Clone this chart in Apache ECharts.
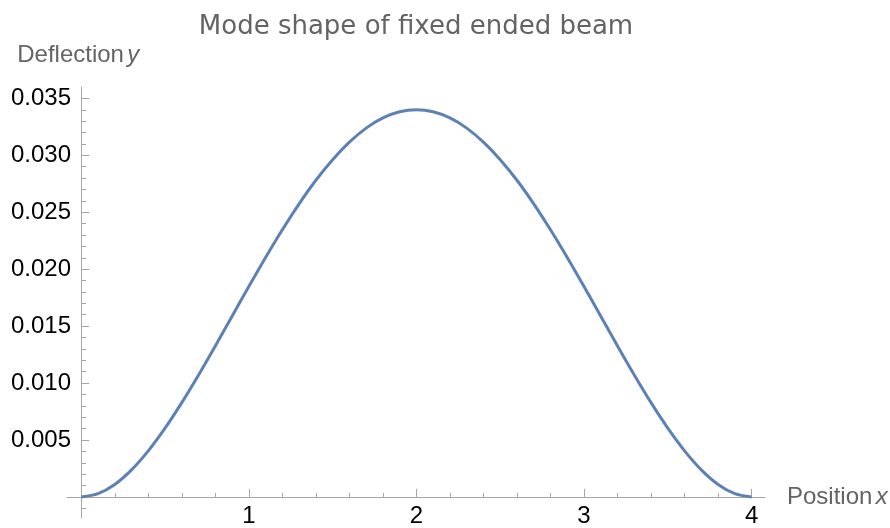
<!DOCTYPE html>
<html>
<head>
<meta charset="utf-8">
<script src="https://cdn.jsdelivr.net/npm/echarts@6/dist/echarts.min.js"></script>
<style>
  html, body { margin: 0; padding: 0; background: #fff; }
  #chart { width: 890px; height: 528px; }
</style>
</head>
<body>
<div id="chart"></div>
<script>
// position along the beam
const positions = [
  0.0, 0.1, 0.2, 0.3, 0.4, 0.5, 0.6, 0.7, 0.8, 0.9,
  1.0, 1.1, 1.2, 1.3, 1.4, 1.5, 1.6, 1.7, 1.8, 1.9,
  2.0, 2.1, 2.2, 2.3, 2.4, 2.5, 2.6, 2.7, 2.8, 2.9,
  3.0, 3.1, 3.2, 3.3, 3.4, 3.5, 3.6, 3.7, 3.8, 3.9, 4.0
];
// deflection
const deflection = [
  0.00000, 0.00029, 0.00110, 0.00238, 0.00405, 0.00604, 0.00828, 0.01071, 0.01326, 0.01587,
  0.01848, 0.02103, 0.02346, 0.02574, 0.02781, 0.02962, 0.03116, 0.03239, 0.03328, 0.03382,
  0.03400, 0.03382, 0.03328, 0.03239, 0.03116, 0.02962, 0.02781, 0.02574, 0.02346, 0.02103,
  0.01848, 0.01587, 0.01326, 0.01071, 0.00828, 0.00604, 0.00405, 0.00238, 0.00110, 0.00029, 0.00000
];

const xMajorTicks = [1, 2, 3, 4];
const xMinorTicks = [0.2, 0.4, 0.6, 0.8, 1.2, 1.4, 1.6, 1.8, 2.2, 2.4, 2.6, 2.8, 3.2, 3.4, 3.6, 3.8];
const yMajorTicks = [0.005, 0.010, 0.015, 0.020, 0.025, 0.030, 0.035];
const yMinorTicks = [-0.001, 0.001, 0.002, 0.003, 0.004, 0.006, 0.007, 0.008, 0.009,
  0.011, 0.012, 0.013, 0.014, 0.016, 0.017, 0.018, 0.019,
  0.021, 0.022, 0.023, 0.024, 0.026, 0.027, 0.028, 0.029,
  0.031, 0.032, 0.033, 0.034];

const X_MIN = -0.085, X_MAX = 4.08;
const Y_MIN = -0.00185, Y_MAX = 0.036;

const axisGray = '#a6a6a6';
const textGray = '#646464';

let chart = echarts.init(document.getElementById('chart'), null, { renderer: 'canvas' });

const seriesData = positions.map((x, i) => [x, deflection[i]]);

const option = {
  animation: false,
  title: {
    text: 'Mode shape of fixed ended beam',
    left: 416,
    top: 14,
    padding: 0,
    textAlign: 'center',
    textStyle: {
      color: textGray,
      fontFamily: 'DejaVu Sans',
      fontWeight: 'normal',
      fontSize: 26
    }
  },
  grid: {
    left: 67,
    right: 125,
    top: 87,
    bottom: 10,
    containLabel: false,
    outerBoundsMode: 'none'
  },
  xAxis: [
    {
      type: 'value',
      min: X_MIN,
      max: X_MAX,
      position: 'bottom',
      name: '{a|Position} {b|x}',
      nameLocation: 'end',
      nameGap: 22,
      nameTextStyle: {
        rich: {
          a: { color: textGray, fontSize: 24, fontFamily: 'Liberation Sans' },
          b: { color: textGray, fontSize: 24, fontFamily: 'Liberation Sans', fontStyle: 'italic' }
        }
      },
      axisLine: { onZero: true, onZeroAxisIndex: 0, lineStyle: { color: axisGray, width: 1 } },
      axisTick: { inside: true, length: 8, customValues: xMajorTicks, lineStyle: { color: axisGray } },
      axisLabel: {
        customValues: xMajorTicks,
        margin: -14,
        color: '#000',
        fontSize: 24,
        fontFamily: 'Liberation Sans'
      },
      splitLine: { show: false }
    },
    {
      type: 'value',
      min: X_MIN,
      max: X_MAX,
      position: 'bottom',
      axisLine: { show: false, onZero: true, onZeroAxisIndex: 0 },
      axisTick: { inside: true, length: 4, customValues: xMinorTicks, lineStyle: { color: axisGray } },
      axisLabel: { show: false },
      splitLine: { show: false }
    }
  ],
  yAxis: [
    {
      type: 'value',
      min: Y_MIN,
      max: Y_MAX,
      position: 'left',
      name: '{a|Deflection} {b|y}',
      nameLocation: 'end',
      nameGap: 20,
      nameTextStyle: {
        padding: [0, 6, 0, 0],
        rich: {
          a: { color: textGray, fontSize: 24, fontFamily: 'Liberation Sans' },
          b: { color: textGray, fontSize: 24, fontFamily: 'Liberation Sans', fontStyle: 'italic' }
        }
      },
      axisLine: { onZero: true, onZeroAxisIndex: 0, lineStyle: { color: axisGray, width: 1 } },
      axisTick: { inside: true, length: 8, customValues: yMajorTicks, lineStyle: { color: axisGray } },
      axisLabel: {
        customValues: yMajorTicks,
        margin: -4,
        color: '#000',
        fontSize: 24,
        fontFamily: 'Liberation Sans',
        formatter: (v) => v.toFixed(3)
      },
      splitLine: { show: false }
    },
    {
      type: 'value',
      min: Y_MIN,
      max: Y_MAX,
      position: 'left',
      axisLine: { show: false, onZero: true, onZeroAxisIndex: 0 },
      axisTick: { inside: true, length: 5, customValues: yMinorTicks, lineStyle: { color: axisGray } },
      axisLabel: { show: false },
      splitLine: { show: false }
    }
  ],
  series: [
    {
      name: 'mode',
      type: 'line',
      xAxisIndex: 0,
      yAxisIndex: 0,
      data: seriesData,
      smooth: 0.3,
      showSymbol: false,
      lineStyle: { color: '#5e81b5', width: 3 }
    }
  ]
};

chart.setOption(option);
</script>
</body>
</html>
